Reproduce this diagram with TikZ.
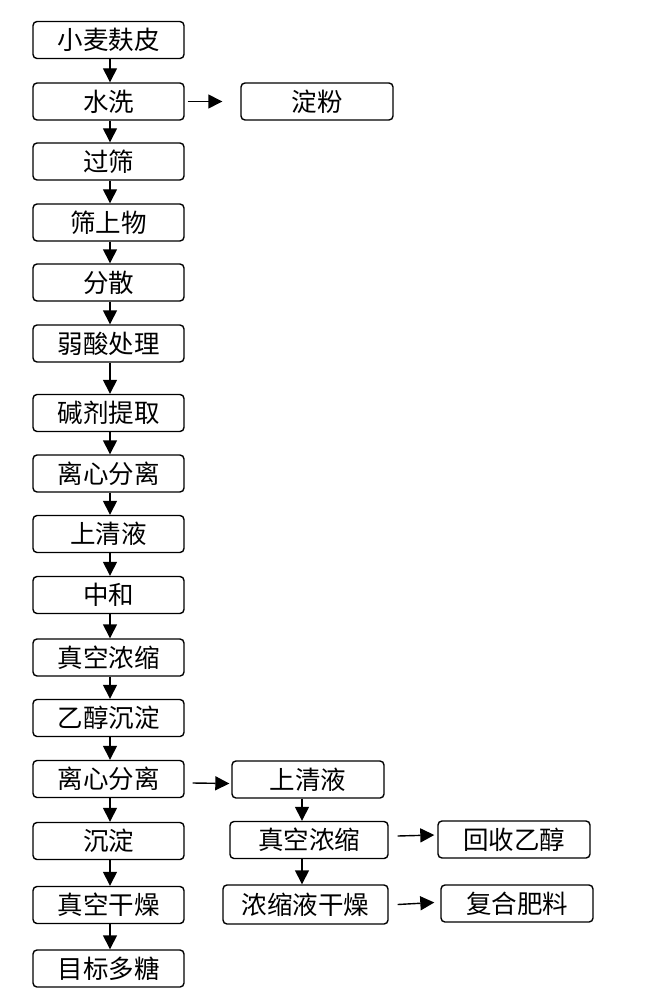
\documentclass[tikz,border=0pt]{standalone}
\usepackage{fontspec}
\newfontfamily\cjk{Noto Sans CJK SC}
\usetikzlibrary{arrows.meta}
\begin{document}
\begin{tikzpicture}[x=1pt,y=-1pt,
  box/.style={draw,line width=1.4pt,rounded corners=4pt,minimum width=151pt,minimum height=37pt,inner sep=0pt,font=\cjk\fontsize{25.5}{25.5}\selectfont},
  arr/.style={line width=1.4pt,-{Triangle[length=14pt,width=14pt]}}]
\useasboundingbox (0,0) rectangle (645,1000);
\node[box] (m1) at (108.5,40) {小麦麸皮};
\node[box] (m2) at (108.5,101.5) {水洗};
\node[box] (m3) at (108.5,161.5) {过筛};
\node[box] (m4) at (108.5,222.5) {筛上物};
\node[box] (m5) at (108.5,282.5) {分散};
\node[box] (m6) at (108.5,343.5) {弱酸处理};
\node[box] (m7) at (108.5,413) {碱剂提取};
\node[box] (m8) at (108.5,473.5) {离心分离};
\node[box] (m9) at (108.5,534) {上清液};
\node[box] (m10) at (108.5,595) {中和};
\node[box] (m11) at (108.5,657.5) {真空浓缩};
\node[box] (m12) at (108.5,718) {乙醇沉淀};
\node[box] (m13) at (108.5,779) {离心分离};
\node[box] (m14) at (108.5,841) {沉淀};
\node[box] (m15) at (108.5,905) {真空干燥};
\node[box] (m16) at (108.5,968.5) {目标多糖};
\node[box,minimum width=152pt] (df) at (317,101.5) {淀粉};
\node[box,minimum width=152pt] (r1) at (308,779.5) {上清液};
\node[box,minimum width=158pt] (r2) at (309,840) {真空浓缩};
\node[box,minimum width=165pt,minimum height=39pt] (r3) at (305.5,904.5) {浓缩液干燥};
\node[box,minimum width=152pt] (h1) at (514,839.5) {回收乙醇};
\node[box,minimum width=152pt] (h2) at (517,903.5) {复合肥料};
\foreach \a/\b in {m1/m2,m2/m3,m3/m4,m4/m5,m5/m6,m6/m7,m7/m8,m8/m9,m9/m10,m10/m11,m11/m12,m12/m13,m13/m14,m14/m15,m15/m16}
  \draw[arr] ([xshift=1.5pt]\a.south) -- ([xshift=1.5pt]\b.north);
\coordinate (rx) at (302,0);
\draw[arr] (r1.south -| rx) -- (r2.north -| rx);
\draw[arr] (r2.south -| rx) -- (r3.north -| rx);
\draw[arr] ([xshift=3pt]m2.east) -- ([xshift=-18pt]df.west);
\draw[arr] ([xshift=8pt,yshift=-4pt]m13.east) -- ([xshift=-2pt,yshift=-4pt]r1.west);
\draw[arr] ([xshift=9pt,yshift=4pt]r2.east) -- ([xshift=-3pt,yshift=4.5pt]h1.west);
\draw[arr] ([xshift=9pt]r3.east) -- ([xshift=-6pt,yshift=1pt]h2.west);
\end{tikzpicture}
\end{document}
